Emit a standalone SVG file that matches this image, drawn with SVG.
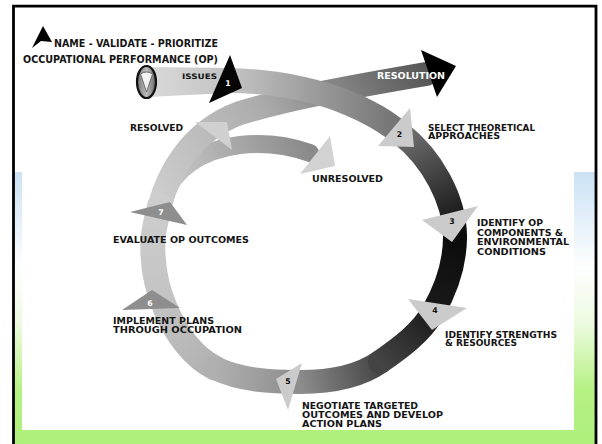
<svg xmlns="http://www.w3.org/2000/svg" width="602" height="444" viewBox="0 0 602 444">
<style>
.t{font-family:"DejaVu Sans","Liberation Sans",Arial,sans-serif;font-weight:bold;font-size:8.3px;fill:#141414}
.h{font-size:9.8px}
.n{font-family:"DejaVu Sans","Liberation Sans",Arial,sans-serif;font-weight:bold;font-size:7.8px;text-anchor:middle;fill:#111}
.w{fill:#fff}
.band{fill:none;stroke-linecap:round}
.lt{fill:#cbcbcb}
.md{fill:#8e8e8e}
</style>
<defs>
<linearGradient id="bg" x1="0" y1="0" x2="0" y2="1">
<stop offset="0" stop-color="#cbe2f4"/>
<stop offset="0.35" stop-color="#fdfefe"/>
<stop offset="0.55" stop-color="#eefbe2"/>
<stop offset="0.8" stop-color="#b6f184"/>
<stop offset="1" stop-color="#aef07c"/>
</linearGradient>
<linearGradient id="gs1" gradientUnits="userSpaceOnUse" x1="148" y1="0" x2="405" y2="0">
<stop offset="0" stop-color="#dadada"/><stop offset="0.35" stop-color="#c0c0c0"/><stop offset="1" stop-color="#707070"/>
</linearGradient>
<linearGradient id="gs2" gradientUnits="userSpaceOnUse" x1="400" y1="133" x2="455" y2="237">
<stop offset="0" stop-color="#707070"/><stop offset="1" stop-color="#0c0c0c"/>
</linearGradient>
<linearGradient id="gr1" gradientUnits="userSpaceOnUse" x1="455" y1="237" x2="433" y2="312">
<stop offset="0" stop-color="#0c0c0c"/><stop offset="1" stop-color="#1a1a1a"/>
</linearGradient>
<linearGradient id="gr2" gradientUnits="userSpaceOnUse" x1="433" y1="312" x2="380" y2="362">
<stop offset="0" stop-color="#1a1a1a"/><stop offset="1" stop-color="#444"/>
</linearGradient>
<linearGradient id="gr3" gradientUnits="userSpaceOnUse" x1="380" y1="362" x2="300" y2="382">
<stop offset="0" stop-color="#444"/><stop offset="1" stop-color="#8c8c8c"/>
</linearGradient>
<linearGradient id="gr4" gradientUnits="userSpaceOnUse" x1="300" y1="382" x2="215" y2="368">
<stop offset="0" stop-color="#8c8c8c"/><stop offset="1" stop-color="#b0b0b0"/>
</linearGradient>
<linearGradient id="gr5" gradientUnits="userSpaceOnUse" x1="215" y1="368" x2="166" y2="310">
<stop offset="0" stop-color="#b0b0b0"/><stop offset="1" stop-color="#c2c2c2"/>
</linearGradient>
<linearGradient id="gr6" gradientUnits="userSpaceOnUse" x1="166" y1="310" x2="160" y2="205">
<stop offset="0" stop-color="#c2c2c2"/><stop offset="1" stop-color="#cdcdcd"/>
</linearGradient>
<linearGradient id="gres" gradientUnits="userSpaceOnUse" x1="160" y1="205" x2="426" y2="74">
<stop offset="0" stop-color="#cdcdcd"/><stop offset="0.45" stop-color="#acacac"/><stop offset="1" stop-color="#585858"/>
</linearGradient>
<linearGradient id="gunr" gradientUnits="userSpaceOnUse" x1="163" y1="200" x2="310" y2="153">
<stop offset="0" stop-color="#cdcdcd"/><stop offset="1" stop-color="#8a8a8a"/>
</linearGradient>
<linearGradient id="goval" x1="0" y1="0" x2="1" y2="0">
<stop offset="0" stop-color="#777"/><stop offset="0.5" stop-color="#bbb"/><stop offset="1" stop-color="#666"/>
</linearGradient>
</defs>

<g id="background">
<rect width="602" height="444" fill="#fff"/>
<rect x="14" y="172" width="582" height="272" fill="url(#bg)"/>
<rect x="22" y="7" width="552" height="423" fill="#fff"/>
<path d="M13.5,444 V6.2 H596 V444" fill="none" stroke="#000" stroke-width="2.8"/>
</g>

<g id="connectors">
<path id="unresolved-band" class="band" stroke="url(#gunr)" stroke-width="18" stroke-linecap="butt" d="M163,200 C172,170 200,150 240,145 C268,142 290,146 310,153"/>
<path id="resolution-band" class="band" stroke="url(#gres)" stroke-width="24" stroke-linecap="butt" d="M160,205 C167,178 188,132 240,113 C290,98 350,87 426,74"/>
<path class="band" stroke="url(#gr6)" stroke-width="25" d="M166,310 C156.4,288 151.8,264 153,240 C153.6,228 157,216.6 160,205"/>
<path class="band" stroke="url(#gr5)" stroke-width="25" d="M215,368 C192.5,357.2 176,333 166,310"/>
<path class="band" stroke="url(#gr4)" stroke-width="24" d="M300,382 C271,382 241,380.5 215,368"/>
<path class="band" stroke="url(#gr3)" stroke-width="24" d="M380,362 C358,377.4 327,382 300,382"/>
<path class="band" stroke="url(#gr2)" stroke-width="24" d="M433,312 C421,333 399.7,348.3 380,362"/>
<path class="band" stroke="url(#gr1)" stroke-width="24" d="M455,237 C455,263 446,289.4 433,312"/>
<path class="band" stroke="url(#gs2)" stroke-width="24" d="M400,133 C432,158 455,200 455,237"/>
<path id="issues-band" fill="url(#gs1)" d="M148,67 L228,68 C290,69 362,85 407.5,123.6 L392.5,142.4 C348,108 288,93 228,93 L148,97 Z"/>
</g>

<g id="legend">
<polygon points="32,48 43,26 52,42 41,41" fill="#000"/>
<text class="t h" x="54" y="46.5" textLength="164" lengthAdjust="spacingAndGlyphs">NAME - VALIDATE - PRIORITIZE</text>
<text class="t h" x="23" y="63" textLength="195" lengthAdjust="spacingAndGlyphs">OCCUPATIONAL PERFORMANCE (OP)</text>
</g>

<g id="issues">
<ellipse cx="146.5" cy="82" rx="9.5" ry="16" fill="url(#goval)" stroke="#111" stroke-width="2.2"/>
<path d="M140.5,74 Q146.5,70 152.5,74 L146.5,92 Z" fill="#f2f2f2" stroke="#555" stroke-width="0.8"/>
<text class="t" x="182" y="79" style="font-size:7.6px" textLength="35" lengthAdjust="spacingAndGlyphs">ISSUES</text>
</g>

<g id="step1">
<polygon points="230,55 242,88 209,103" fill="#050505"/>
<text class="n w" x="228" y="86">1</text>
</g>

<g id="step2">
<polygon points="410,108 378,146 414,147" class="lt"/>
<text class="n" x="399.5" y="137">2</text>
<text class="t" x="428" y="130.5" textLength="107" lengthAdjust="spacingAndGlyphs">SELECT THEORETICAL</text>
<text class="t" x="428" y="139" textLength="72" lengthAdjust="spacingAndGlyphs">APPROACHES</text>
</g>

<g id="step3">
<polygon points="422,220 478,206 452,242" class="lt"/>
<text class="n" x="452" y="224">3</text>
<text class="t" x="477" y="226" textLength="66" lengthAdjust="spacingAndGlyphs">IDENTIFY OP</text>
<text class="t" x="477" y="236" textLength="86" lengthAdjust="spacingAndGlyphs">COMPONENTS &amp;</text>
<text class="t" x="477" y="245" textLength="92" lengthAdjust="spacingAndGlyphs">ENVIRONMENTAL</text>
<text class="t" x="477" y="254.5" textLength="69" lengthAdjust="spacingAndGlyphs">CONDITIONS</text>
</g>

<g id="step4">
<polygon points="408,299 467,308 432,330" class="lt"/>
<text class="n" x="435" y="313">4</text>
<text class="t" x="445" y="337.5" textLength="112" lengthAdjust="spacingAndGlyphs">IDENTIFY STRENGTHS</text>
<text class="t" x="445" y="346" textLength="72" lengthAdjust="spacingAndGlyphs">&amp; RESOURCES</text>
</g>

<g id="step5">
<polygon points="276,379 302,363 288,410" class="lt"/>
<text class="n" x="288" y="383.5">5</text>
<text class="t" x="302" y="408.5" textLength="116" lengthAdjust="spacingAndGlyphs">NEGOTIATE TARGETED</text>
<text class="t" x="302" y="417.5" textLength="141" lengthAdjust="spacingAndGlyphs">OUTCOMES AND DEVELOP</text>
<text class="t" x="302" y="426.5" textLength="80" lengthAdjust="spacingAndGlyphs">ACTION PLANS</text>
</g>

<g id="step6">
<polygon points="122,310 152,290 180,308" class="md"/>
<text class="n w" x="150" y="305.5">6</text>
<text class="t" x="113" y="324" textLength="101" lengthAdjust="spacingAndGlyphs">IMPLEMENT PLANS</text>
<text class="t" x="113" y="332.5" textLength="129" lengthAdjust="spacingAndGlyphs">THROUGH OCCUPATION</text>
</g>

<g id="step7">
<polygon points="130,212 170,202 187,225" class="md"/>
<text class="n w" x="161" y="214.5">7</text>
<text class="t" x="113" y="242.5" textLength="136" lengthAdjust="spacingAndGlyphs">EVALUATE OP OUTCOMES</text>
</g>

<g id="resolved">
<polygon points="195,122 227,122 232,150" fill="#d0d0d0"/>
<text class="t" x="130" y="131" textLength="53" lengthAdjust="spacingAndGlyphs">RESOLVED</text>
</g>

<g id="unresolved">
<polygon points="330,136 335,166 300,174" fill="#d2d2d2"/>
<text class="t" x="312" y="182" textLength="71" lengthAdjust="spacingAndGlyphs">UNRESOLVED</text>
</g>

<g id="resolution">
<polygon points="421,50 456,66 437,97" fill="#000"/>
<text class="t w" x="377" y="79" textLength="68" lengthAdjust="spacingAndGlyphs">RESOLUTION</text>
</g>
</svg>
